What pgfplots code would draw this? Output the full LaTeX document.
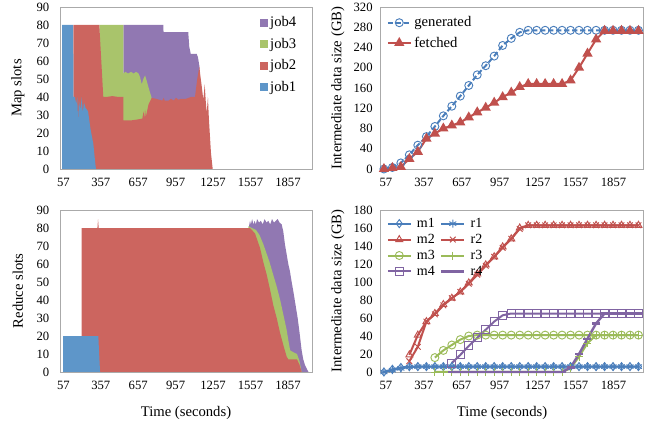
\documentclass[border=0pt]{standalone}
\usepackage{fontspec}
\setmainfont{Liberation Serif}
\usepackage{pgfplots}
\pgfplotsset{compat=1.18}

% area fills
\definecolor{ablue}{RGB}{94,150,201}
\definecolor{ared}{RGB}{204,101,95}
\definecolor{agreen}{RGB}{169,196,107}
\definecolor{apurple}{RGB}{145,120,178}
% line colours
\definecolor{lblue}{RGB}{74,126,187}
\definecolor{lred}{RGB}{192,80,77}
\definecolor{lgreen}{RGB}{155,187,89}
\definecolor{lpurple}{RGB}{128,100,162}
\definecolor{frame}{RGB}{170,170,170}

\pgfplotsset{
  base/.style={
    scale only axis,
    axis line style={frame, line width=0.6pt},
    major tick length=0pt,
    tick label style={font=\fontsize{9.5}{10}\selectfont},
    label style={font=\fontsize{11}{12}\selectfont},
    /pgf/number format/assume math mode=true,
    /pgf/number format/1000 sep={},
    xtick={57,357,...,1857},
    xticklabel style={yshift=-3.5pt},
    scaled ticks=false,
    legend style={draw=none, fill=none, font=\fontsize{11}{12}\selectfont},
    legend cell align=left,
  },
  leftax/.style={base, width=189pt, height=121.5pt, xmin=30, xmax=2050,
    ymin=0, ymax=90, ytick={0,10,...,90},
    yticklabel style={xshift=-4.5pt},
    ylabel style={at={(axis description cs:-0.167,0.5)}, anchor=center}},
  rightax/.style={base, width=197.25pt, height=121.5pt, xmin=10, xmax=2090,
    ymin=0, yticklabel style={xshift=-2pt}, clip=false,
    ylabel={Intermediate data size (GB)},
    ylabel style={at={(axis description cs:-0.16,0.5)}, anchor=center}},
  patch/.style={legend image code/.code={\fill[##1,draw=none] (0pt,-3pt) rectangle (6pt,3pt);}},
  ser/.style={line width=1.5pt, mark size=3pt, mark options={solid, fill=none, line width=0.7pt}},
}

\begin{document}
\begin{tikzpicture}
\useasboundingbox (0,0) rectangle (500.25pt,321pt);

% ---- top left: map slots
\begin{axis}[leftax, at={(45pt,194.25pt)}, ylabel={Map slots},
  legend style={at={(axis description cs:0.775,0.975)}, anchor=north west, row sep=3pt}]
\addplot[patch, fill=apurple, draw=none] coordinates {
 (538,80) (858,80) (860,76) (1058,76) (1066,68) (1078,64) (1126,64) (1136,62) (1148,57)} \closedcycle;
\addlegendentry{job4}
\addplot[patch, fill=agreen, draw=none] coordinates {
 (345,80) (538,80) (539,53) (555,54) (575,53) (600,54) (620,53) (640,54) (660,53)
 (672,51) (685,47) (698,50) (712,52) (725,49) (745,44) (765,39.5)} \closedcycle;
\addlegendentry{job3}
\addplot[patch, fill=ared, draw=none] coordinates {
 (137,80) (345,80) (377,40) (400,40) (450,40.5) (500,40) (537,40) (538,27) (600,27)
 (650,27.5) (690,28) (700,32) (706,28) (712,33) (718,29) (740,36) (765,39.5) (800,39)
 (850,38) (860,39.5) (870,38) (900,38) (920,39) (940,38) (960,39.5) (980,38.5)
 (1000,39) (1040,39) (1080,40) (1112,40) (1130,50) (1147,57) (1155,52) (1166,46)
 (1179,38.5) (1190,47) (1198,38) (1206,31) (1216,40) (1222,30) (1227,24) (1240,9) (1254,0)} \closedcycle;
\addlegendentry{job2}
\addplot[patch, fill=ablue, draw=none] coordinates {
 (47,80) (135,80) (138,40) (150,40) (160,36) (168,40) (175,27) (182,38) (192,33)
 (205,40) (212,31) (222,37) (235,34) (255,32) (275,22) (297,14) (310,5) (318,0)} \closedcycle;
\addlegendentry{job1}
\end{axis}

% ---- bottom left: reduce slots
\begin{axis}[leftax, at={(45pt,42pt)}, ylabel={Reduce slots}, xlabel={Time (seconds)},
  xlabel style={at={(axis description cs:0.5,-0.255)}, anchor=center}]
\addplot[fill=apurple, draw=none] coordinates {
 (1545,81) (1553,84) (1560,82) (1570,85) (1580,82) (1590,84) (1600,82) (1610,85)
 (1625,83) (1640,84) (1655,82) (1670,85) (1685,83) (1700,84) (1715,82) (1730,85)
 (1745,83) (1760,84) (1775,85) (1790,83) (1807,82) (1820,78) (1833,71) (1860,60)
 (1873,56) (1887,50) (1900,45) (1914,39) (1935,30) (1950,22) (1967,12) (1980,7)
 (1993,4) (2010,1.5) (2022,0)} \closedcycle;
\addplot[fill=agreen, draw=none] coordinates {
 (1540,81) (1553,80.5) (1600,79) (1630,76) (1660,71) (1690,65) (1710,61) (1735,55)
 (1765,48) (1795,40) (1820,32) (1845,24) (1862,17) (1875,12) (1900,11) (1930,10)
 (1950,6) (1967,0)} \closedcycle;
\addplot[fill=ared, draw=none] coordinates {
 (204,80) (330,80) (335,85) (340,80) (1553,80) (1593,77) (1633,69) (1660,61) (1687,54)
 (1713,46) (1740,37) (1767,30) (1793,22) (1820,15) (1847,8.5) (1860,7) (1930,7)
 (1950,4) (1967,0)} \closedcycle;
\addplot[fill=ablue, draw=none] coordinates {
 (55,20) (337,20) (351,0)} \closedcycle;
\end{axis}

% ---- top right: generated / fetched
\begin{axis}[rightax, at={(285pt,194.25pt)}, ymax=320, ytick={0,40,...,320},
  legend style={at={(axis description cs:0.01,0.975)}, anchor=north west, row sep=2pt}]
\addplot[ser, color=lblue, dash pattern=on 4pt off 2pt, mark=o] coordinates {
 (41,0) (108,3) (175,12) (242,28) (309,47) (377,64) (444,84) (511,105) (578,124)
 (645,144) (712,165) (779,186) (846,204) (913,223) (980,244) (1048,258) (1115,270)
 (1182,274) (1249,274) (1316,274) (1383,274) (1450,274) (1517,274) (1584,274)
 (1651,274) (1719,274) (1786,274) (1853,274) (1920,274) (1987,274) (2054,274)};
\addlegendentry{generated}
\addplot[ser, color=lred, mark=triangle*, mark options={fill=lred}] coordinates {
 (41,0) (108,2) (175,4) (242,20) (309,34) (377,60) (444,70) (511,80) (578,86)
 (645,92) (712,102) (779,112) (846,121) (913,131) (980,142) (1048,151) (1115,162)
 (1182,168) (1249,168) (1316,168) (1383,168) (1450,168) (1517,175) (1584,200)
 (1651,228) (1719,256) (1786,273) (1853,273) (1920,273) (1987,273) (2054,273)};
\addlegendentry{fetched}
\end{axis}

% ---- bottom right: per-job map / reduce data
\begin{axis}[rightax, at={(285pt,42pt)}, ymax=180, ytick={0,20,...,180},
  xlabel={Time (seconds)},
  xlabel style={at={(axis description cs:0.464,-0.255)}, anchor=center},
  legend columns=2,
  legend style={at={(axis description cs:0.01,0.985)}, anchor=north west,
    font=\fontsize{10.5}{11}\selectfont, column sep=2pt, row sep=-0.5pt}]
\addplot[ser, color=lblue, mark=diamond] coordinates {
 (41,0) (108,3) (175,5) (242,6) (309,6) (377,6) (444,6) (511,6) (578,6) (645,6)
 (712,6) (779,6) (846,6) (913,6) (980,6) (1048,6) (1115,6) (1182,6) (1249,6) (1316,6)
 (1383,6) (1450,6) (1517,6) (1584,6) (1651,6) (1719,6) (1786,6) (1853,6) (1920,6)
 (1987,6) (2054,6)};
\addlegendentry{m1}
\addplot[ser, color=lblue, mark=asterisk] coordinates {
 (41,0) (108,2) (175,4) (242,5.5) (309,6) (377,6) (444,6) (511,6) (578,6) (645,6)
 (712,6) (779,6) (846,6) (913,6) (980,6) (1048,6) (1115,6) (1182,6) (1249,6) (1316,6)
 (1383,6) (1450,6) (1517,6) (1584,6) (1651,6) (1719,6) (1786,6) (1853,6) (1920,6)
 (1987,6) (2054,6)};
\addlegendentry{r1}
\addplot[ser, color=lred, mark=triangle] coordinates {
 (242,19) (309,41) (377,56) (444,65) (511,75) (578,82) (645,89) (712,99) (779,109)
 (846,119) (913,128) (980,139) (1048,148) (1115,160) (1182,163) (1249,163) (1316,163)
 (1383,163) (1450,163) (1517,163) (1584,163) (1651,163) (1719,163) (1786,163)
 (1853,163) (1920,163) (1987,163) (2054,163)};
\addlegendentry{m2}
\addplot[ser, color=lred, mark=x] coordinates {
 (242,12) (309,28) (377,56) (444,64) (511,74) (578,82) (645,89) (712,98) (779,108)
 (846,118) (913,128) (980,138) (1048,148) (1115,159) (1182,163) (1249,163) (1316,163)
 (1383,163) (1450,163) (1517,163) (1584,163) (1651,163) (1719,163) (1786,163)
 (1853,163) (1920,163) (1987,163) (2054,163)};
\addlegendentry{r2}
\addplot[ser, color=lgreen, mark=o] coordinates {
 (444,16) (511,24) (578,30) (645,36) (712,40) (779,41) (846,41) (913,41) (980,41)
 (1048,41) (1115,41) (1182,41) (1249,41) (1316,41) (1383,41) (1450,41) (1517,41)
 (1584,41) (1651,41) (1719,41) (1786,41) (1853,41) (1920,41) (1987,41) (2054,41)};
\addlegendentry{m3}
\addplot[ser, color=lgreen, mark=+] coordinates {
 (444,0) (511,0) (578,0) (645,0) (712,0) (779,0) (846,0) (913,0) (980,0) (1048,0)
 (1115,0) (1182,0) (1249,0) (1316,0) (1383,0) (1450,0) (1517,4) (1584,17) (1651,32)
 (1719,41) (1786,41) (1853,41) (1920,41) (1987,41) (2054,41)};
\addlegendentry{r3}
\addplot[ser, color=lpurple, mark=square] coordinates {
 (578,10) (645,19) (712,29) (779,38) (846,47) (913,56) (980,63) (1048,65) (1115,65)
 (1182,65) (1249,65) (1316,65) (1383,65) (1450,65) (1517,65) (1584,65) (1651,65)
 (1719,65) (1786,65) (1853,65) (1920,65) (1987,65) (2054,65)};
\addlegendentry{m4}
\addplot[ser, color=lpurple, line width=1.8pt, mark=-, mark options={line width=1.8pt}] coordinates {
 (578,0) (645,0) (712,0) (779,0) (846,0) (913,0) (980,0) (1048,0) (1115,0) (1182,0)
 (1249,0) (1316,0) (1383,0) (1450,0) (1517,5) (1584,20) (1651,37) (1719,54) (1786,65)
 (1853,65) (1920,65) (1987,65) (2054,65)};
\addlegendentry{r4}
\end{axis}
\end{tikzpicture}
\end{document}
